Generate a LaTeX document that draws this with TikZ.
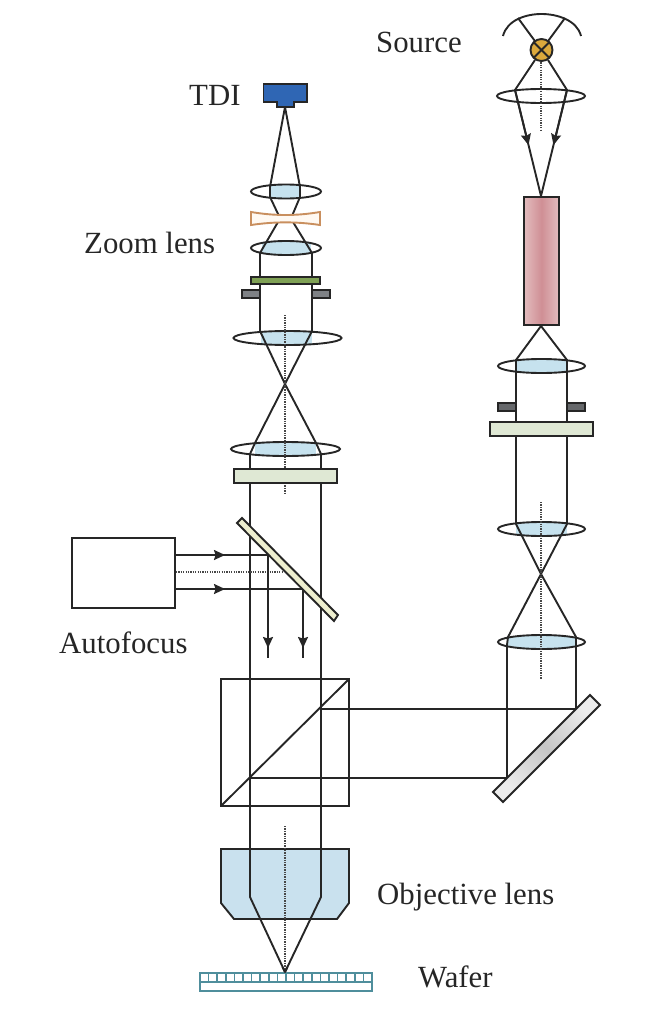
\documentclass[tikz,border=0pt]{standalone}
\usepackage{fontspec}
\setmainfont{Liberation Serif}
\usetikzlibrary{arrows.meta,calc}
\definecolor{ink}{HTML}{262626}
\definecolor{lensblue}{HTML}{C6E2EE}
\definecolor{platecol}{HTML}{DFE8D4}
\definecolor{wafercol}{HTML}{4F8E9C}
\definecolor{camblue}{HTML}{2F66B4}
\definecolor{stopgrey}{HTML}{7F8286}
\definecolor{greenbar}{HTML}{7FA155}
\definecolor{concave}{HTML}{C98F5E}
\definecolor{lampcol}{HTML}{DCA93C}
\definecolor{objblue}{HTML}{C9E1EE}
\definecolor{mirrorcream}{HTML}{EEEFCF}
\definecolor{rodmid}{HTML}{CF8F95}
\definecolor{rodedge}{HTML}{E3BCBE}
\tikzset{
  ray/.style={draw=ink,line width=1.9pt,line join=round},
  axisline/.style={draw=ink!85,line width=1.7pt,dash pattern=on 1.3pt off 1.1pt},
  part/.style={draw=ink,line width=1.9pt,line join=miter},
  headed/.style={ray,-{Stealth[length=11pt,width=10pt,inset=1.5pt]}},
  label/.style={inner sep=0pt,anchor=base west,font=\fontsize{30.8}{32}\selectfont,text=ink},
}
% centre x, centre y, x radius, y radius, blue from, blue to
\newcommand{\lensat}[6]{%
  \begin{scope}
    \clip (#1,#2) ellipse [x radius=#3pt,y radius=#4pt];
    \fill[lensblue] (#5,#2-#4) rectangle (#6,#2+#4);
  \end{scope}
  \draw[part] (#1,#2) ellipse [x radius=#3pt,y radius=#4pt];
}
\begin{document}
\begin{tikzpicture}[x=1pt,y=-1pt]
\useasboundingbox (0,0) rectangle (645,1014);

% ---- objective (under the rays)
\draw[part,fill=objblue] (221,849) -- (349,849) -- (349,903) -- (337,919) -- (234,919) -- (221,903) -- cycle;

% ---- lenses, left column
\lensat{286}{191.5}{35}{7}{270}{300}
\lensat{286}{248}{35}{7}{262}{311}
\lensat{287.5}{338}{54}{7}{261}{312}
\lensat{285.5}{449}{54.5}{7}{255}{316}

% ---- lenses, right column
\draw[part] (541,96) ellipse [x radius=44pt,y radius=7pt];
\lensat{541.5}{366}{43.5}{7}{516}{567}
\lensat{541.5}{529}{43.5}{7}{516}{567}
\lensat{541.5}{642}{43.5}{7}{507}{576}

% ---- rays, left column
\coordinate (apex) at (285,107);
\coordinate (crossA) at (285,384);
\coordinate (focus) at (285,972);
\draw[ray] (apex) -- (270,187) -- (270,197) -- (279,216);
\draw[ray] (apex) -- (300,187) -- (300,197) -- (292,216);
\draw[ray] (278,222) -- (260,253) -- (260,331) -- (crossA) -- (255,443) -- (250,454) -- (250,897) -- (focus);
\draw[ray] (293,222) -- (312,253) -- (312,331) -- (crossA) -- (316,443) -- (321,454) -- (321,897) -- (focus);

% ---- rays, right column
\coordinate (rodin) at (541,196);
\coordinate (rodout) at (541,326);
\coordinate (crossB) at (541,574);
\coordinate (lampc) at (541.5,50);
\draw[ray] (518,18) -- (lampc);
\draw[ray] (565,18) -- (lampc);
\draw[ray] (535,60) -- (515,90) -- (rodin);
\draw[ray] (548,60) -- (567,90) -- (rodin);
\draw[ray] (rodout) -- (516,360) -- (516,524) -- (crossB) -- (508,637) -- (507,645) -- (507,778);
\draw[ray] (rodout) -- (567,360) -- (567,524) -- (crossB) -- (576,637) -- (576,709);
\draw[headed] (515,90) -- ($(515,90)!0.52!(rodin)$);
\draw[headed] (567,90) -- ($(567,90)!0.52!(rodin)$);

% ---- horizontal beams
\draw[ray] (321,709) -- (576,709);
\draw[ray] (250,778) -- (507,778);

% ---- axes
\draw[axisline] (285,315) -- (285,493);
\draw[axisline] (285,826) -- (focus);
\draw[axisline] (541,60) -- (541,130);
\draw[axisline] (541,502) -- (541,679);

% ---- camera
\draw[part,fill=camblue] (263.5,84) -- (307,84) -- (307,102) -- (294,102) -- (294,107) -- (277,107) -- (277,102) -- (263.5,102) -- cycle;

% ---- concave lens
\draw[draw=concave,line width=1.9pt,fill=orange!5] (251,212) .. controls (275,216) and (296,216) .. (320,212) -- (320,225) .. controls (296,221.5) and (275,221.5) .. (251,225) -- cycle;

% ---- stops and plates, left
\draw[part,fill=greenbar] (251,277) rectangle (320,284);
\draw[part,fill=stopgrey] (242,290) rectangle (260,298);
\draw[part,fill=stopgrey] (312,290) rectangle (330,298);
\draw[part,fill=platecol] (234,469) rectangle (337,483);

% ---- stops and plates, right
\draw[part,fill=stopgrey!80!black] (498,403) rectangle (516,411);
\draw[part,fill=stopgrey!80!black] (567,403) rectangle (585,411);
\draw[part,fill=platecol] (490,422) rectangle (593,436);

% ---- source
\draw[part,fill=lampcol] (lampc) circle [radius=11pt];
\draw[ray] (533.5,42) -- (549.5,58);
\draw[ray] (549.5,42) -- (533.5,58);
\draw[part] (503,36) .. controls (507,20) and (526,14) .. (541.5,14) .. controls (557,14) and (577,20) .. (581,36);

% ---- rod
\shade[left color=rodedge,right color=rodedge,middle color=rodmid] (524,197) rectangle (559,325);
\draw[part] (524,197) rectangle (559,325);

% ---- autofocus
\node[part,minimum width=103pt,minimum height=70pt,inner sep=0pt,anchor=north west] (afbox) at (71,537) {};
\coordinate (hitA) at (268,555);
\coordinate (hitB) at (303,589);
\coordinate (hitC) at (283,572);
\draw[ray] (afbox.east |- hitA) -- (hitA) -- (268,658);
\draw[ray] (afbox.east |- hitB) -- (hitB) -- (303,658);
\draw[axisline] (afbox.east |- hitC) -- (hitC);
\draw[headed] (afbox.east |- hitA) -- (225,555);
\draw[headed] (afbox.east |- hitB) -- (225,589);
\draw[headed] (hitA) -- (268,648);
\draw[headed] (hitB) -- (303,648);
\draw[part,fill=mirrorcream] (242,518) -- (338,615) -- (334,621) -- (237,523) -- cycle;

% ---- cube
\draw[part] (221,679) rectangle (349,806);
\draw[part] (221,806) -- (349,679);

% ---- fold mirror
\shade[left color=gray!15,right color=gray!15,middle color=gray!45,shading angle=-45] (590,695) -- (600,705) -- (503,802) -- (493,792) -- cycle;
\draw[part] (590,695) -- (600,705) -- (503,802) -- (493,792) -- cycle;

% ---- wafer
\draw[draw=wafercol,line width=1.7pt,fill=white] (200,973) rectangle (372,991);
\draw[draw=wafercol,line width=1.7pt] (200,982) -- (372,982);
\foreach \k in {1,...,19} \draw[draw=wafercol,line width=1.7pt] ({200+\k*8.6},973) -- ({200+\k*8.6},982);
\draw[ray] (282.5,967) -- (focus) -- (287.5,967);

% ---- labels
\node[label] (lsource) at (376,53) {Source};
\node[label] (ltdi) at (189,106) {TDI};
\node[label] (lzoom) at (84,253) {Zoom lens};
\node[label] (laf) at (59,653) {Autofocus};
\node[label] (lobj) at (377,904) {Objective lens};
\node[label] (lwafer) at (418,987) {Wafer};
\end{tikzpicture}
\end{document}
